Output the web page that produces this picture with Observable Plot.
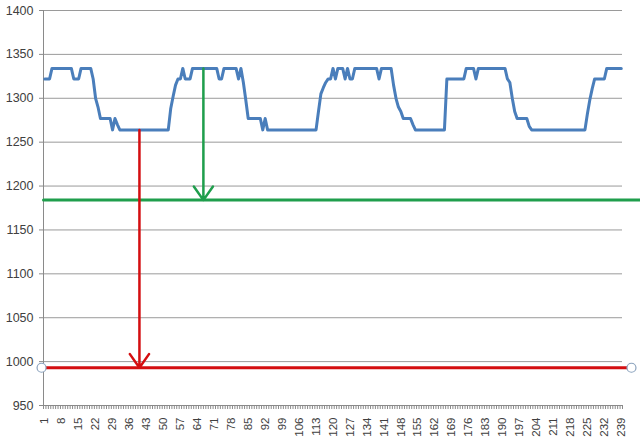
<!DOCTYPE html>
<html>
<head>
<meta charset="utf-8">
<script src="https://cdn.jsdelivr.net/npm/d3@7"></script>
<script src="https://cdn.jsdelivr.net/npm/@observablehq/plot@0.6"></script>
<style>
  html, body { margin: 0; padding: 0; background: #ffffff; }
  #chart svg { display: block; }
</style>
</head>
<body>
<div id="chart"></div>
<script>
// Series values (category 1..239)
const values = [
  // 1-20
  1322,1322,1322,1334,1334,1334,1334,1334,1334,1334,1334,1334,1322,1322,1322,1334,1334,1334,1334,1334,
  // 21-40
  1322,1300,1290,1277,1277,1277,1277,1277,1264,1277,1270,1264,1264,1264,1264,1264,1264,1264,1264,1264,
  // 41-60
  1264,1264,1264,1264,1264,1264,1264,1264,1264,1264,1264,1264,1288,1302,1315,1322,1322,1334,1322,1322,
  // 61-80
  1322,1334,1334,1334,1334,1334,1334,1334,1334,1334,1334,1334,1322,1322,1334,1334,1334,1334,1334,1334,
  // 81-100
  1322,1334,1318,1298,1277,1277,1277,1277,1277,1277,1264,1277,1264,1264,1264,1264,1264,1264,1264,1264,
  // 101-120
  1264,1264,1264,1264,1264,1264,1264,1264,1264,1264,1264,1264,1264,1285,1305,1312,1318,1322,1322,1334,
  // 121-140
  1322,1334,1334,1334,1322,1334,1322,1322,1334,1334,1334,1334,1334,1334,1334,1334,1334,1334,1322,1334,
  // 141-160
  1334,1334,1334,1334,1315,1300,1290,1285,1277,1277,1277,1277,1270,1264,1264,1264,1264,1264,1264,1264,
  // 161-180
  1264,1264,1264,1264,1264,1264,1322,1322,1322,1322,1322,1322,1322,1322,1334,1334,1334,1334,1322,1334,
  // 181-200
  1334,1334,1334,1334,1334,1334,1334,1334,1334,1334,1334,1322,1318,1300,1285,1277,1277,1277,1277,1277,
  // 201-220
  1268,1264,1264,1264,1264,1264,1264,1264,1264,1264,1264,1264,1264,1264,1264,1264,1264,1264,1264,1264,
  // 221-239
  1264,1264,1264,1264,1282,1298,1311,1322,1322,1322,1322,1322,1334,1334,1334,1334,1334,1334,1334
];
const categories = values.map((v, i) => i + 1);
const xTickLabels = [1,8,15,22,29,36,43,50,57,64,71,78,85,92,99,106,113,120,127,134,141,148,155,162,169,176,183,190,197,204,211,218,225,232,239];
const yTicks = [950,1000,1050,1100,1150,1200,1250,1300,1350,1400];

// Reference levels and arrows
const greenLevel = 1184;
const redLevel = 993;
const greenArrow = {x: 66.5, from: 1334, to: 1184};
const redArrow = {x: 40.1, from: 1264, to: 993};

const series = categories.map((c, i) => ({x: c, y: values[i]}));
const boundaries = d3.range(0.5, categories.length + 1, 1);

const blue = "#4a7ebb";
const green = "#1f9e4c";
const red = "#d40e10";

const chart = Plot.plot({
  width: 640,
  height: 448,
  marginLeft: 43,
  marginRight: 18,
  marginTop: 10,
  marginBottom: 43,
  x: {domain: [0.5, categories.length + 0.5]},
  y: {domain: [950, 1400]},
  style: {fontFamily: "'Liberation Sans', Arial, sans-serif", fontSize: "11px", color: "#404040", background: "#ffffff", overflow: "visible"},
  marks: [
    Plot.gridY(yTicks, {stroke: "#9a9a9a", strokeOpacity: 1, strokeWidth: 1}),
    Plot.axisY(yTicks, {tickSize: 4, tickPadding: 6, label: null, stroke: "#8a8a8a", fill: "#404040", fontSize: 12.5, tickFormat: d => String(d)}),
    Plot.ruleX([0.5], {stroke: "#8a8a8a"}),
    Plot.ruleY([950], {stroke: "#8a8a8a"}),
    Plot.axisX(boundaries, {tickSize: 4, tickFormat: () => "", label: null, stroke: "#8a8a8a"}),
    Plot.axisX(xTickLabels, {tickSize: 0, tickPadding: 12, tickRotate: -90, label: null, fill: "#404040", fontSize: 11.5, tickFormat: d => String(d)}),
    Plot.line([{x: 0.5, y: greenLevel}, {x: 250, y: greenLevel}], {x: "x", y: "y", stroke: green, strokeWidth: 3}),
    Plot.line(series, {x: "x", y: "y", stroke: blue, strokeWidth: 3, strokeLinejoin: "round"}),
    Plot.arrow([greenArrow], {x: "x", y1: "from", y2: "to", stroke: green, strokeWidth: 2.5, headLength: 10, headAngle: 70}),
    Plot.arrow([redArrow], {x: "x", y1: "from", y2: "to", stroke: red, strokeWidth: 2.5, headLength: 10, headAngle: 70}),
    Plot.line([{x: -0.3, y: redLevel}, {x: 243.2, y: redLevel}], {x: "x", y: "y", stroke: red, strokeWidth: 3}),
    Plot.dot([{x: -0.3, y: redLevel}, {x: 243.2, y: redLevel}], {x: "x", y: "y", r: 4.5, fill: "#ffffff", stroke: "#8aa2bd", strokeWidth: 1.2})
  ]
});
document.getElementById("chart").appendChild(chart);
</script>
</body>
</html>
